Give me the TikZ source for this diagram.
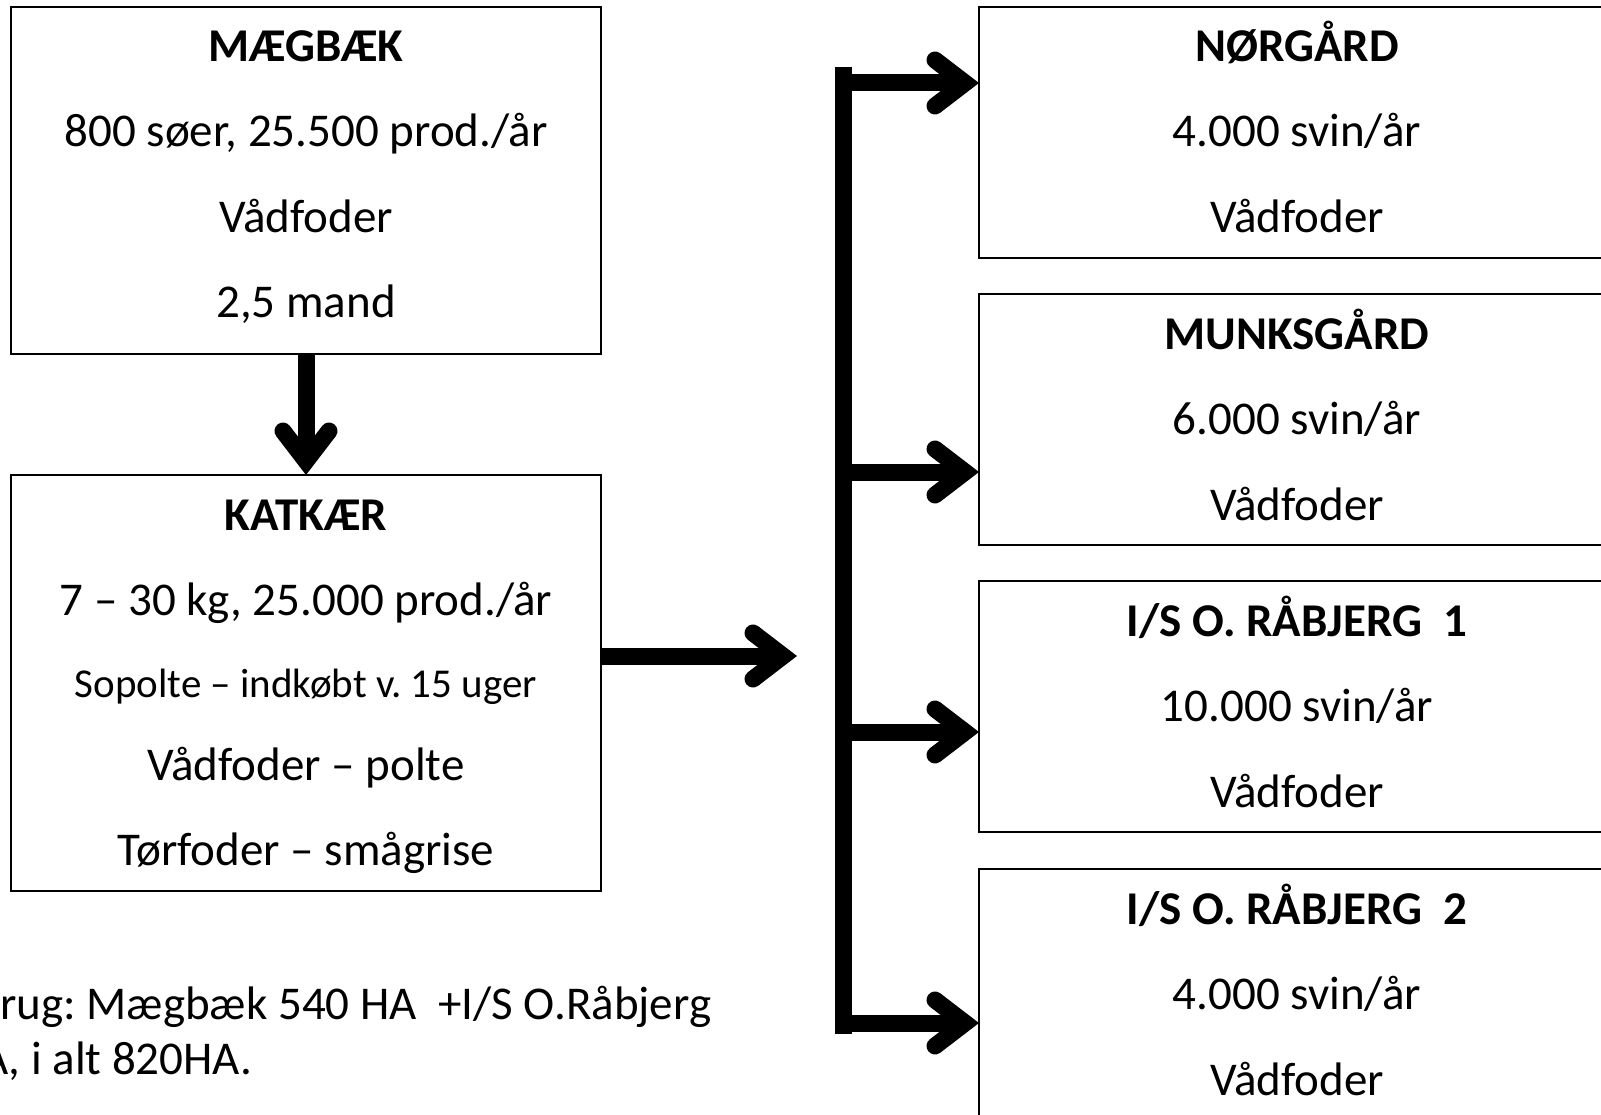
\documentclass[tikz,border=0pt]{standalone}
\usepackage{fontspec}
\setmainfont{Carlito}
\frenchspacing
\usetikzlibrary{arrows.meta,calc}
\begin{document}
\frenchspacing
\begin{tikzpicture}[x=1pt,y=-1pt,
  box/.style={draw=black,line width=2pt,anchor=north west,inner sep=0pt,outer sep=0pt},
  lbox/.style={box,minimum width=590pt},
  rbox/.style={box,minimum width=636pt,minimum height=251pt},
  txt/.style={anchor=base,inner sep=0pt,font=\fontsize{47}{56}\selectfont},
  ttl/.style={anchor=base,inner sep=0pt,font=\fontsize{47}{56}\selectfont\bfseries},
  stxt/.style={anchor=base,inner sep=0pt,font=\fontsize{41}{50}\selectfont},
  arr/.style={line width=17pt,-{Straight Barb[length=30pt,width=46pt,line cap=round,line join=miter]}}]
\useasboundingbox (0,0) rectangle (1601,1115);
\clip (0,0) rectangle (1601,1115);
% left boxes
\node[lbox,minimum height=347pt] (m) at (11,7) {};
\node[lbox,minimum height=416pt] (k) at (11,475) {};
\node[ttl] (mt) at ($(m.north)+(0,55)$) {MÆGBÆK};
\node[txt] (ma) at ($(m.north)+(0,140)$) {800 søer, 25.500 prod./år};
\node[txt] (mb) at ($(m.north)+(0,226)$) {Vådfoder};
\node[txt] (mc) at ($(m.north)+(0,311)$) {2,5 mand};
\node[ttl] (kt) at ($(k.north)+(0,55)$) {KATKÆR};
\node[txt] (ka) at ($(k.north)+(0,140)$) {7 – 30 kg, 25.000 prod./år};
\node[stxt] (kb) at ($(k.north)+(0,222)$) {Sopolte – indkøbt v. 15 uger};
\node[txt] (kc) at ($(k.north)+(0,305)$) {Vådfoder – polte};
\node[txt] (kd) at ($(k.north)+(0,390)$) {Tørfoder – smågrise};
% right boxes
\node[rbox] (r1) at (979,7) {};
\node[rbox] (r2) at (979,294) {};
\node[rbox] (r3) at (979,581) {};
\node[rbox] (r4) at (979,869) {};
\node[ttl] (r1t) at ($(r1.north)+(0,55)$) {NØRGÅRD};
\node[txt] (r1a) at ($(r1.north)+(0,140)$) {4.000 svin/år};
\node[txt] (r1b) at ($(r1.north)+(0,226)$) {Vådfoder};
\node[ttl] (r2t) at ($(r2.north)+(0,55)$) {MUNKSGÅRD};
\node[txt] (r2a) at ($(r2.north)+(0,140)$) {6.000 svin/år};
\node[txt] (r2b) at ($(r2.north)+(0,226)$) {Vådfoder};
\node[ttl] (r3t) at ($(r3.north)+(0,55)$) {I/S O. RÅBJERG\ \ 1};
\node[txt] (r3a) at ($(r3.north)+(0,140)$) {10.000 svin/år};
\node[txt] (r3b) at ($(r3.north)+(0,226)$) {Vådfoder};
\node[ttl] (r4t) at ($(r4.north)+(0,55)$) {I/S O. RÅBJERG\ \ 2};
\node[txt] (r4a) at ($(r4.north)+(0,140)$) {4.000 svin/år};
\node[txt] (r4b) at ($(r4.north)+(0,226)$) {Vådfoder};
% footer text
\node[txt,anchor=base west] (f1) at (0,1019) {rug: Mægbæk 540 HA\ \ +I/S O.Råbjerg};
\node[txt,anchor=base west] (f2) at (-19,1074) {A, i alt 820HA.};
% connectors
\draw[arr] (m.south) -- (k.north);
\coordinate (kend) at (797,656);
\draw[arr] (k.east |- kend) -- (kend);
\coordinate (bt) at (843.5,67);
\coordinate (bb) at (843.5,1034);
\draw[line width=17pt] (bt) -- (bb);
\coordinate (b1) at (843.5,83);
\coordinate (b2) at (843.5,472);
\coordinate (b3) at (843.5,732);
\coordinate (b4) at (843.5,1023);
\draw[arr] (b1) -- (b1 -| r1.west);
\draw[arr] (b2) -- (b2 -| r2.west);
\draw[arr] (b3) -- (b3 -| r3.west);
\draw[arr] (b4) -- (b4 -| r4.west);
\end{tikzpicture}
\end{document}
